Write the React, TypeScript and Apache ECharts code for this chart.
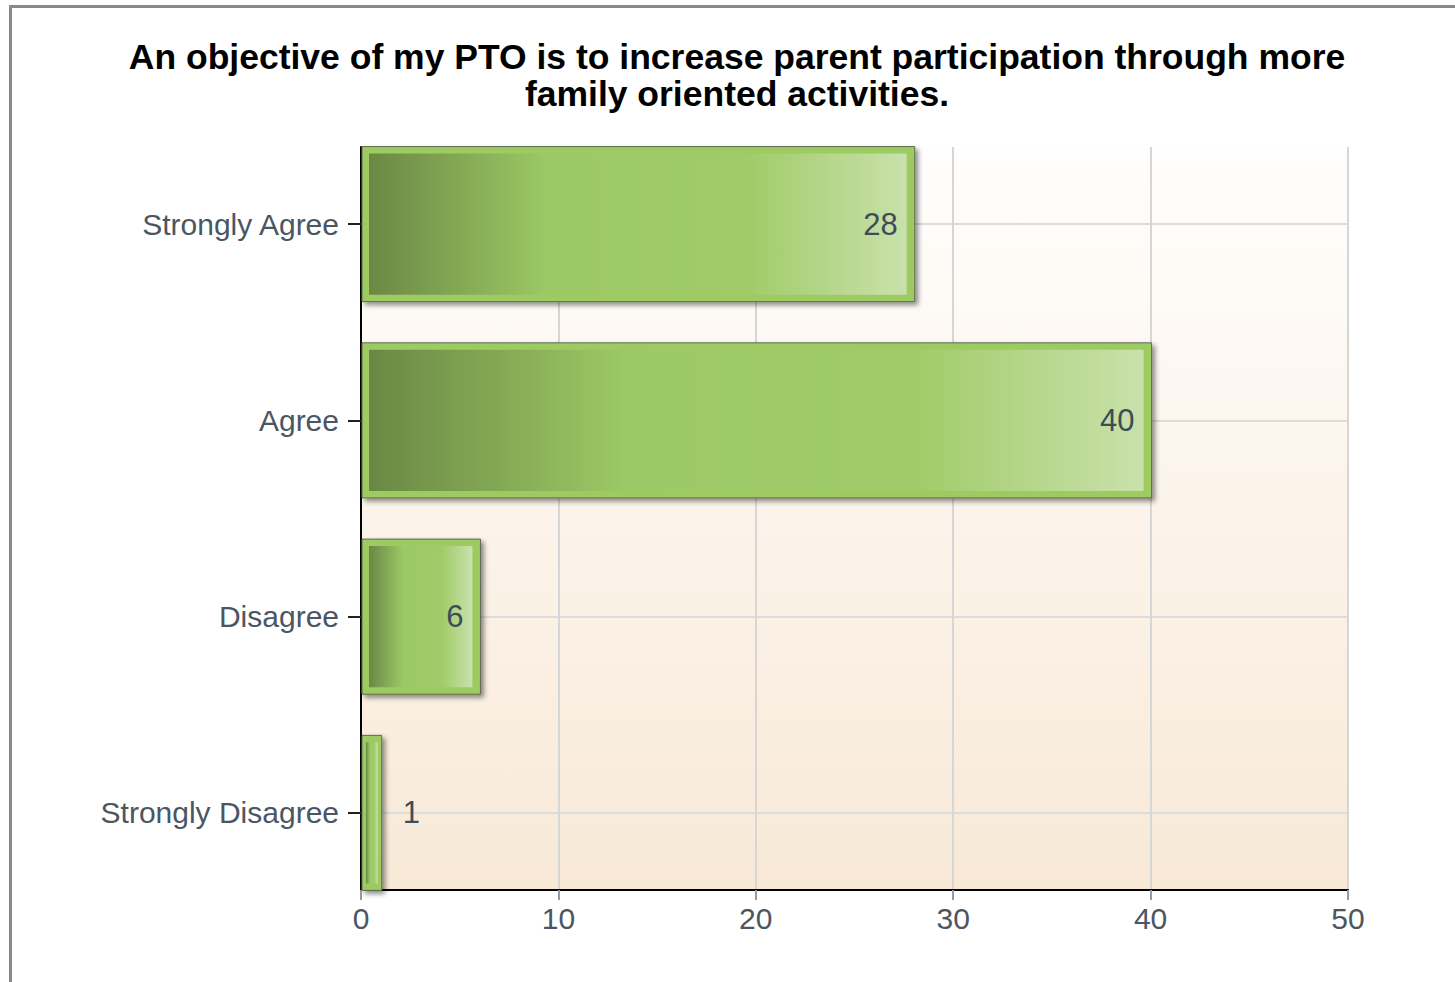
import React, { useEffect, useRef } from "react";
import * as echarts from "echarts";

const titleLines = [
  "An objective of my PTO is to increase parent participation through more",
  "family oriented activities.",
];
const categories = ["Strongly Agree", "Agree", "Disagree", "Strongly Disagree"];
const counts = [28, 40, 6, 1];
const xMin = 0;
const xMax = 50;
const xInterval = 10;

const FONT = 'Arial, "Liberation Sans", sans-serif';

export default function App() {
  const ref = useRef<HTMLDivElement>(null);
  useEffect(() => {
    if (!ref.current) return;
    const chart = echarts.init(ref.current, null, { renderer: "svg" });
    const data = counts.map((v, i) => [v, i]);
    const option: any = {
      animation: false,
      backgroundColor: "#ffffff",
      graphic: [
        {
          type: "rect",
          shape: { x: 10.5, y: 6.5, width: 1600, height: 1100 },
          style: { fill: "none", stroke: "#8a8a8a", lineWidth: 3 },
          z: 0,
        },
        {
          type: "text",
          x: 737,
          y: 38,
          style: {
            text: titleLines.join("\n"),
            align: "center",
            verticalAlign: "top",
            fontFamily: FONT,
            fontWeight: "bold",
            fontSize: 35.5,
            lineHeight: 37,
            fill: "#000000",
          },
        },
      ],
      grid: [
        {
          left: 361,
          top: 147,
          width: 987,
          height: 743,
          show: true,
          borderWidth: 0,
          backgroundColor: new echarts.graphic.LinearGradient(0, 0, 0, 1, [
            { offset: 0, color: "#fffefd" },
            { offset: 1, color: "#f8e9d7" },
          ]),
        },
        { left: 361, top: 126, width: 987, height: 785 },
      ],
      xAxis: [
        {
          gridIndex: 0,
          type: "value",
          min: xMin,
          max: xMax,
          interval: xInterval,
          axisLine: { show: true, lineStyle: { color: "#000000", width: 2 } },
          axisTick: { show: true, length: 10, lineStyle: { color: "#9a9a9a", width: 2 } },
          axisLabel: { fontFamily: FONT, fontSize: 30, color: "#4b5663", margin: 13 },
          splitLine: { show: true, lineStyle: { color: "#d6d6d6", width: 2 } },
        },
        {
          gridIndex: 1,
          type: "value",
          min: xMin,
          max: xMax,
          show: false,
          splitLine: { show: false },
        },
      ],
      yAxis: [
        {
          gridIndex: 0,
          type: "category",
          data: categories,
          inverse: true,
          axisLine: { show: true, lineStyle: { color: "#000000", width: 2 } },
          axisTick: { show: false },
          axisLabel: { show: false },
          splitLine: { show: false },
        },
        {
          gridIndex: 1,
          type: "category",
          data: categories,
          inverse: true,
          axisLine: { show: false },
          axisTick: { show: true, alignWithLabel: true, length: 13, lineStyle: { color: "#222222", width: 2 } },
          axisLabel: { fontFamily: FONT, fontSize: 30, color: "#4b5663", margin: 22 },
          splitLine: { show: true, alignWithLabel: true, lineStyle: { color: "#dcdcdc", width: 2 } },
        },
      ],
      series: [
        {
          type: "custom",
          xAxisIndex: 1,
          yAxisIndex: 1,
          data,
          z: 5,
          renderItem: (params: any, api: any) => {
            const v = api.value(0);
            const c = api.value(1);
            const s = api.coord([0, c]);
            const e = api.coord([v, c]);
            const band = api.size([0, 1])[1];
            const h = band * 0.79;
            const x0 = s[0] + 1;
            const w = e[0] - s[0];
            const y0 = s[1] - h / 2;
            const inset = Math.min(7, w * 0.2);
            const insetR = Math.min(8, w * 0.2);
            const inside = w > 60;
            return {
              type: "group",
              children: [
                {
                  type: "rect",
                  shape: { x: x0, y: y0, width: w, height: h },
                  style: {
                    fill: "#9dcb62",
                    stroke: "#5d6b50",
                    lineWidth: 1,
                    shadowBlur: 5,
                    shadowOffsetX: 3,
                    shadowOffsetY: 3,
                    shadowColor: "rgba(0,0,0,0.45)",
                  },
                },
                {
                  type: "rect",
                  shape: {
                    x: x0 + inset,
                    y: y0 + 7,
                    width: Math.max(1, w - inset - insetR),
                    height: h - 14,
                  },
                  style: {
                    fill: new echarts.graphic.LinearGradient(0, 0, 1, 0, [
                      { offset: 0, color: "#6a8844" },
                      { offset: 0.33, color: "#9cc865" },
                      { offset: 0.7, color: "#a0cb68" },
                      { offset: 1, color: "#c9e1ab" },
                    ]),
                  },
                },
                {
                  type: "text",
                  x: inside ? e[0] - 16 : e[0] + 22,
                  y: s[1],
                  style: {
                    text: String(counts[c]),
                    align: inside ? "right" : "left",
                    verticalAlign: "middle",
                    fontFamily: FONT,
                    fontSize: 31,
                    fill: "#3c4c58",
                  },
                },
              ],
            };
          },
        },
      ],
    };
    chart.setOption(option);
    return () => chart.dispose();
  }, []);
  return (
    <div
      ref={ref}
      style={{ position: "fixed", left: 0, top: 0, width: 1455, height: 982 }}
    />
  );
}
